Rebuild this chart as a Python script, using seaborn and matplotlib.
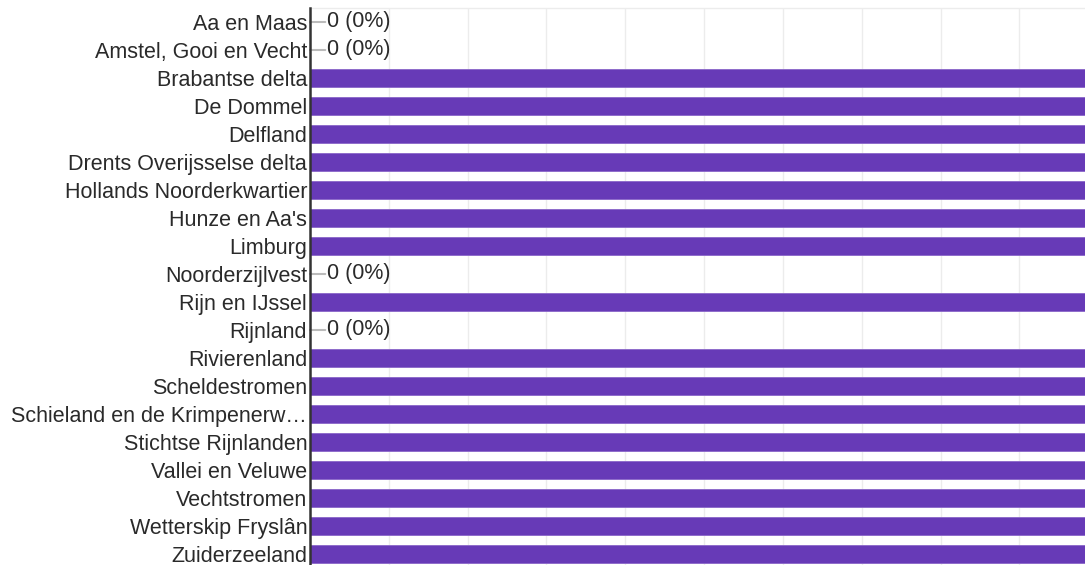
import matplotlib
matplotlib.use("Agg")
import matplotlib.pyplot as plt
import seaborn as sns
import pandas as pd
import numpy as np

categories = ["Aa en Maas", "Amstel, Gooi en Vecht", "Brabantse delta", "De Dommel",
              "Delfland", "Drents Overijsselse delta", "Hollands Noorderkwartier",
              "Hunze en Aa's", "Limburg", "Noorderzijlvest", "Rijn en IJssel", "Rijnland",
              "Rivierenland", "Scheldestromen", "Schieland en de Krimpenerw\u2026",
              "Stichtse Rijnlanden", "Vallei en Veluwe", "Vechtstromen",
              "Wetterskip Fryslân", "Zuiderzeeland"]
values = [0, 0, 1, 1, 1, 1, 1, 1, 1, 0, 1, 0, 1, 1, 1, 1, 1, 1, 1, 1]

sns.set_theme(style="white")
plt.rcParams['font.family'] = ['Liberation Sans', 'DejaVu Sans']

df = pd.DataFrame({"cat": categories, "val": values})

fig = plt.figure(figsize=(10.85, 5.65), dpi=100)
ax = fig.add_axes([310/1085, -3/565, 1 - 310/1085 + 0.01, 560/565])

sns.barplot(data=df, x="val", y="cat", orient="h", color="#673ab7",
            saturation=1, width=0.61, ax=ax, zorder=3, edgecolor="#8a66c9", linewidth=0.6)

ax.set_xlim(0, 0.987 * 1.01)
ax.set_xticks(np.arange(0, 1.0, 0.1))
ax.xaxis.grid(True, color="#ececec", linewidth=1, zorder=0)
ax.set_axisbelow(True)
ax.set_xticklabels([])
ax.tick_params(axis="x", length=0)
ax.tick_params(axis="y", length=0, pad=2, labelsize=15.5, labelcolor="#2a2a2a")
ax.set_xlabel("")
ax.set_ylabel("")
for s in ["right", "bottom"]:
    ax.spines[s].set_visible(False)
ax.spines["top"].set_color("#ececec")
ax.spines["top"].set_linewidth(1)
ax.spines["left"].set_color("#333333")
ax.spines["left"].set_linewidth(1.8)
ax.spines["left"].set_zorder(5)

for i, v in enumerate(values):
    if v == 0:
        ax.annotate("", xy=(v, i), xytext=(11, 0), textcoords="offset points",
                    arrowprops=dict(arrowstyle="-", color="#bbbbbb", lw=1.5,
                                    shrinkA=0, shrinkB=0))
        ax.annotate(f"{v} ({v:.0%})", xy=(v, i), xytext=(12.5, 0), textcoords="offset points",
                    va="center", ha="left", fontsize=15.5, color="#2a2a2a")

fig.savefig("out.png", dpi=100)
